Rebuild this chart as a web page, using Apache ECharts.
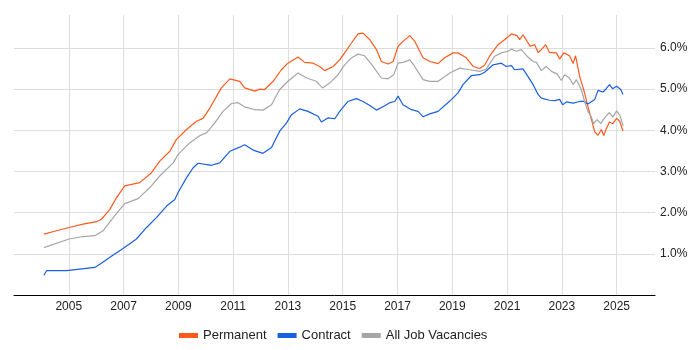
<!DOCTYPE html>
<html>
<head>
<meta charset="utf-8">
<script src="https://cdn.jsdelivr.net/npm/echarts@6/dist/echarts.min.js"></script>
<style>
  html, body { margin: 0; padding: 0; background: #fff; }
  #chart { width: 700px; height: 350px; }
</style>
</head>
<body>
<div id="chart"></div>
<script>
// x-axis tick years shown on the chart
const yearTicks = [2005, 2007, 2009, 2011, 2013, 2015, 2017, 2019, 2021, 2023, 2025];

// Permanent
const permYears = [2004.09, 2004.55, 2005.01, 2005.52, 2006.01, 2006.19, 2006.5, 2006.74, 2007.04, 2007.59,
  2008.02, 2008.32, 2008.69, 2008.93, 2009.3, 2009.66, 2009.9, 2010.15, 2010.57, 2010.88,
  2011.24, 2011.42, 2011.79, 2011.97, 2012.15, 2012.46, 2012.76, 2013.0, 2013.37, 2013.61,
  2013.92, 2014.16, 2014.34, 2014.65, 2014.89, 2015.07, 2015.32, 2015.56, 2015.74, 2015.99,
  2016.23, 2016.41, 2016.65, 2016.84, 2017.02, 2017.2, 2017.45, 2017.63, 2017.93, 2018.18,
  2018.48, 2018.72, 2019.03, 2019.21, 2019.51, 2019.76, 2020.0, 2020.18, 2020.36, 2020.67,
  2020.91, 2021.16, 2021.36, 2021.46, 2021.58, 2021.73, 2021.85, 2022.01, 2022.13, 2022.25,
  2022.41, 2022.55, 2022.8, 2022.92, 2023.07, 2023.28, 2023.41, 2023.5, 2023.65, 2023.83,
  2023.95, 2024.08, 2024.2, 2024.32, 2024.44, 2024.53, 2024.62, 2024.74, 2024.86, 2025.0,
  2025.11, 2025.23];
const permValues = [1.48, 1.56, 1.64, 1.72, 1.78, 1.84, 2.08, 2.36, 2.65, 2.73,
  2.97, 3.25, 3.49, 3.78, 4.02, 4.22, 4.29, 4.54, 5.03, 5.25,
  5.19, 5.03, 4.95, 5.0, 4.99, 5.19, 5.47, 5.63, 5.78, 5.65,
  5.63, 5.55, 5.45, 5.55, 5.71, 5.88, 6.12, 6.34, 6.36, 6.2,
  5.96, 5.67, 5.61, 5.67, 6.04, 6.16, 6.3, 6.16, 5.76, 5.67,
  5.62, 5.76, 5.88, 5.88, 5.76, 5.55, 5.5, 5.58, 5.8, 6.08,
  6.2, 6.34, 6.3, 6.2, 6.32, 6.16, 6.04, 6.08, 5.89, 5.96,
  6.08, 5.89, 5.88, 5.73, 5.88, 5.81, 5.62, 5.81, 5.31, 4.91,
  4.58, 4.26, 3.96, 3.88, 4.02, 3.87, 4.04, 4.2, 4.16, 4.29,
  4.22, 3.98];

// Contract
const contractYears = [2004.09, 2004.19, 2004.92, 2005.4, 2005.95, 2006.19, 2006.62, 2006.98, 2007.47, 2007.84,
  2008.2, 2008.57, 2008.87, 2008.99, 2009.3, 2009.54, 2009.72, 2010.21, 2010.51, 2010.88,
  2011.24, 2011.42, 2011.73, 2012.09, 2012.4, 2012.7, 2012.95, 2013.13, 2013.43, 2013.73,
  2014.1, 2014.22, 2014.46, 2014.71, 2014.89, 2015.19, 2015.5, 2015.74, 2015.99, 2016.23,
  2016.47, 2016.72, 2016.9, 2017.02, 2017.2, 2017.51, 2017.75, 2017.93, 2018.18, 2018.48,
  2018.91, 2019.21, 2019.39, 2019.7, 2020.0, 2020.18, 2020.49, 2020.79, 2020.97, 2021.16,
  2021.28, 2021.58, 2021.76, 2021.95, 2022.13, 2022.25, 2022.55, 2022.74, 2022.92, 2023.03,
  2023.17, 2023.41, 2023.65, 2023.83, 2023.95, 2024.2, 2024.32, 2024.5, 2024.62, 2024.74,
  2024.85, 2025.0, 2025.15, 2025.23];
const contractValues = [0.48, 0.59, 0.59, 0.63, 0.67, 0.77, 0.97, 1.13, 1.36, 1.64,
  1.88, 2.16, 2.32, 2.49, 2.85, 3.09, 3.2, 3.15, 3.21, 3.49,
  3.59, 3.65, 3.52, 3.44, 3.58, 3.98, 4.18, 4.38, 4.52, 4.46,
  4.34, 4.2, 4.3, 4.28, 4.46, 4.7, 4.77, 4.7, 4.6, 4.49,
  4.57, 4.67, 4.7, 4.83, 4.62, 4.5, 4.46, 4.33, 4.4, 4.46,
  4.71, 4.91, 5.11, 5.33, 5.35, 5.41, 5.59, 5.63, 5.55, 5.57,
  5.47, 5.49, 5.31, 5.11, 4.87, 4.78, 4.73, 4.72, 4.75, 4.62,
  4.69, 4.66, 4.7, 4.7, 4.64, 4.75, 4.97, 4.93, 5.01, 5.11,
  5.01, 5.07, 4.99, 4.87];

// All Job Vacancies
const allYears = [2004.09, 2005.01, 2005.52, 2005.95, 2006.25, 2006.62, 2007.04, 2007.53, 2007.96, 2008.32,
  2008.81, 2008.99, 2009.42, 2009.78, 2010.03, 2010.33, 2010.63, 2010.94, 2011.18, 2011.42,
  2011.79, 2012.09, 2012.4, 2012.7, 2013.0, 2013.37, 2013.68, 2014.04, 2014.26, 2014.53,
  2014.83, 2015.07, 2015.32, 2015.56, 2015.8, 2016.11, 2016.41, 2016.65, 2016.86, 2017.02,
  2017.2, 2017.45, 2017.63, 2017.93, 2018.18, 2018.48, 2018.72, 2018.91, 2019.27, 2019.64,
  2020.0, 2020.24, 2020.55, 2020.79, 2021.03, 2021.16, 2021.34, 2021.52, 2021.73, 2021.95,
  2022.07, 2022.25, 2022.43, 2022.62, 2022.82, 2022.98, 2023.1, 2023.28, 2023.41, 2023.53,
  2023.71, 2023.83, 2023.95, 2024.08, 2024.16, 2024.28, 2024.42, 2024.56, 2024.73, 2024.86,
  2025.0, 2025.12, 2025.24];
const allValues = [1.15, 1.36, 1.42, 1.44, 1.56, 1.88, 2.22, 2.34, 2.61, 2.89,
  3.21, 3.41, 3.7, 3.87, 3.94, 4.18, 4.46, 4.65, 4.67, 4.57,
  4.5, 4.49, 4.62, 4.99, 5.19, 5.39, 5.27, 5.19, 5.03, 5.15,
  5.35, 5.59, 5.76, 5.85, 5.81, 5.55, 5.27, 5.25, 5.35, 5.63,
  5.65, 5.71, 5.55, 5.23, 5.19, 5.19, 5.3, 5.39, 5.51, 5.47,
  5.43, 5.49, 5.8, 5.88, 5.92, 5.97, 5.92, 5.96, 5.8, 5.67,
  5.65, 5.45, 5.55, 5.43, 5.37, 5.21, 5.35, 5.27, 5.11, 5.23,
  4.99, 4.7, 4.46, 4.32, 4.16, 4.26, 4.17, 4.3, 4.43, 4.32,
  4.47, 4.36, 4.1];

const zip = (xs, ys) => xs.map((x, i) => [x, ys[i]]);

const chart = echarts.init(document.getElementById('chart'));

const font = 'Liberation Sans, Arial, sans-serif';

const makeSeries = (name, color, xs, ys) => ({
  name: name,
  type: 'line',
  data: zip(xs, ys),
  showSymbol: false,
  symbol: 'none',
  lineStyle: { width: 1.2, color: color },
  itemStyle: { color: color },
});

chart.setOption({
  animation: false,
  textStyle: { fontFamily: font },
  grid: { left: 14, right: 45, top: 15, bottom: 55 },
  legend: {
    left: 174,
    bottom: 3,
    icon: 'rect',
    itemWidth: 19,
    itemHeight: 5,
    itemGap: 11,
    textStyle: { fontSize: 13, color: '#222', fontFamily: font },
    data: ['Permanent', 'Contract', 'All Job Vacancies'],
  },
  xAxis: {
    type: 'value',
    min: 2003,
    max: 2026.4,
    interval: 2,
    axisLine: { show: true, lineStyle: { color: '#000', width: 1 } },
    axisTick: { show: false },
    axisLabel: {
      fontSize: 12,
      color: '#222',
      margin: 6,
      formatter: (v) => (yearTicks.indexOf(v) >= 0 ? String(v) : ''),
    },
    splitLine: {
      show: true,
      lineStyle: {
        color: ['transparent', '#dddddd', '#dddddd', '#dddddd', '#dddddd', '#dddddd', '#dddddd',
          '#dddddd', '#dddddd', '#dddddd', '#dddddd', '#dddddd', 'transparent'],
      },
    },
  },
  yAxis: {
    type: 'value',
    position: 'right',
    min: 0,
    max: 6.8,
    interval: 1,
    axisLine: { show: false },
    axisTick: { show: false },
    axisLabel: {
      fontSize: 12,
      color: '#222',
      margin: 5,
      formatter: (v) => (v >= 1 && v <= 6 && Number.isInteger(v) ? v.toFixed(1) + '%' : ''),
    },
    splitLine: {
      show: true,
      lineStyle: {
        color: ['#dddddd', '#dddddd', '#dddddd', '#dddddd', '#dddddd', '#dddddd', '#dddddd', 'transparent'],
      },
    },
  },
  series: [
    makeSeries('Permanent', '#FF5A1E', permYears, permValues),
    makeSeries('Contract', '#1A5FE0', contractYears, contractValues),
    makeSeries('All Job Vacancies', '#A6A6A6', allYears, allValues),
  ],
});
</script>
</body>
</html>
